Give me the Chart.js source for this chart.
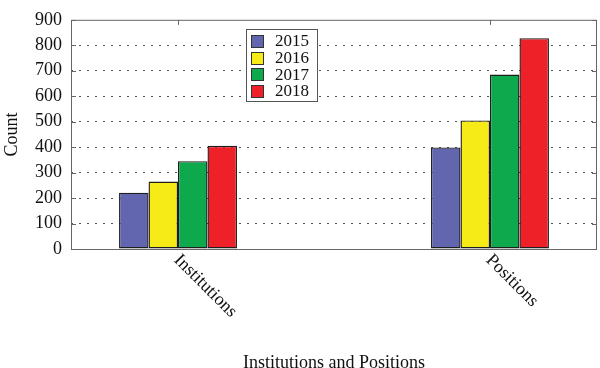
<!DOCTYPE html>
<html>
<head>
<meta charset="utf-8">
<script src="https://cdn.jsdelivr.net/npm/chart.js@4"></script>
<style>
  html, body { margin: 0; padding: 0; background: #fff; }
</style>
</head>
<body>
<canvas id="bar-chart" width="600" height="368"></canvas>
<script>
const categories = ["Institutions", "Positions"];
const years = ["2015", "2016", "2017", "2018"];
const counts2015 = [221, 399];
const counts2016 = [265, 505];
const counts2017 = [345, 685];
const counts2018 = [405, 828];
const yTickValues = [0, 100, 200, 300, 400, 500, 600, 700, 800, 900];
const barColors = ["#6266ae", "#f6eb16", "#0ea94c", "#ee2128"];

const serif = "'Liberation Serif', 'DejaVu Serif', serif";
const frameColor = "#666";

function toPoints(values) {
    return values.map((v, i) => ({ x: i, y: v }));
}

function makeDataset(i, values) {
    return {
        label: years[i],
        data: toPoints(values),
        backgroundColor: barColors[i],
        borderColor: "#1e1e1e",
        borderWidth: 1.4,
        borderSkipped: false,
        inflateAmount: 0
    };
}

//frame, inward ticks, slanted category labels and the boxed legend
const decorPlugin = {
    id: 'decor',
    afterDatasetsDraw(chart) {
        const ctx = chart.ctx;
        const area = chart.chartArea;
        const xScale = chart.scales.x;
        const yScale = chart.scales.y;

        ctx.save();
        ctx.strokeStyle = frameColor;
        ctx.lineWidth = 1;
        ctx.strokeRect(area.left + 0.5, area.top + 0.5, area.right - area.left - 1, area.bottom - area.top);

        ctx.beginPath();
        yTickValues.forEach(v => {
            const y = Math.round(yScale.getPixelForValue(v)) + 0.5;
            ctx.moveTo(area.left, y);
            ctx.lineTo(area.left + 5, y);
            ctx.moveTo(area.right - 5, y);
            ctx.lineTo(area.right, y);
        });
        categories.forEach((c, i) => {
            const x = Math.round(xScale.getPixelForValue(i)) + 0.5;
            ctx.moveTo(x, area.top);
            ctx.lineTo(x, area.top + 5);
        });
        ctx.stroke();

        // category labels, going down to the right
        ctx.fillStyle = "#111";
        ctx.font = "18px " + serif;
        ctx.textAlign = 'left';
        ctx.textBaseline = 'top';
        categories.forEach((c, i) => {
            const x = xScale.getPixelForValue(i);
            ctx.save();
            ctx.translate(x + 5, area.bottom + 2);
            ctx.rotate(Math.PI / 4);
            ctx.fillText(c, 0, 0);
            ctx.restore();
        });

        // legend
        const lx = 246, ly = 29, lw = 71, lh = 72;
        ctx.fillStyle = "#fff";
        ctx.fillRect(lx, ly, lw, lh);
        ctx.strokeStyle = "#555";
        ctx.strokeRect(lx + 0.5, ly + 0.5, lw, lh);
        ctx.font = "17px " + serif;
        ctx.textBaseline = 'middle';
        chart.data.datasets.forEach((ds, i) => {
            const top = 35 + i * 16.6;
            ctx.fillStyle = ds.backgroundColor;
            ctx.fillRect(251, Math.round(top), 12, 12);
            ctx.strokeStyle = "#333";
            ctx.strokeRect(251.5, Math.round(top) + 0.5, 12, 12);
            ctx.fillStyle = "#111";
            ctx.fillText(ds.label, 275, top + 7);
        });
        ctx.restore();
    }
};

const chart = new Chart(document.getElementById("bar-chart"), {
    type: 'bar',
    data: {
        datasets: [
            makeDataset(0, counts2015),
            makeDataset(1, counts2016),
            makeDataset(2, counts2017),
            makeDataset(3, counts2018)
        ]
    },
    options: {
        responsive: false,
        animation: false,
        devicePixelRatio: 1,
        layout: {
            padding: { top: 10, right: 3, left: 0, bottom: 0 }
        },
        datasets: {
            bar: {
                categoryPercentage: 0.378,
                barPercentage: 1
            }
        },
        plugins: {
            legend: { display: false },
            tooltip: { enabled: false }
        },
        scales: {
            x: {
                type: 'linear',
                offset: false,
                min: -0.343,
                max: 1.343,
                afterBuildTicks: scale => {
                    scale.ticks = categories.map((c, i) => ({ value: i }));
                },
                afterFit: scale => {
                    scale.height = 119;
                },
                grid: { display: false, offset: false },
                border: { display: false },
                ticks: { display: false },
                title: {
                    display: true,
                    text: 'Institutions and Positions',
                    color: '#111',
                    font: { family: serif, size: 18, lineHeight: 0.8 },
                    padding: { top: 0, bottom: -2 }
                }
            },
            y: {
                min: 0,
                max: 900,
                afterBuildTicks: scale => {
                    scale.ticks = yTickValues.map(v => ({ value: v }));
                },
                afterFit: scale => {
                    scale.width = 71;
                },
                grid: {
                    drawTicks: false,
                    color: c => (c.tick.value === 0 || c.tick.value === 900) ? 'rgba(0,0,0,0)' : '#555',
                    lineWidth: 1
                },
                border: { display: false, dash: [2, 6] },
                ticks: {
                    color: '#111',
                    padding: 9,
                    font: { family: serif, size: 18 }
                },
                title: {
                    display: true,
                    text: 'Count',
                    color: '#111',
                    font: { family: serif, size: 18 },
                    padding: { top: 1, bottom: 0 }
                }
            }
        }
    },
    plugins: [decorPlugin]
});
</script>
</body>
</html>
